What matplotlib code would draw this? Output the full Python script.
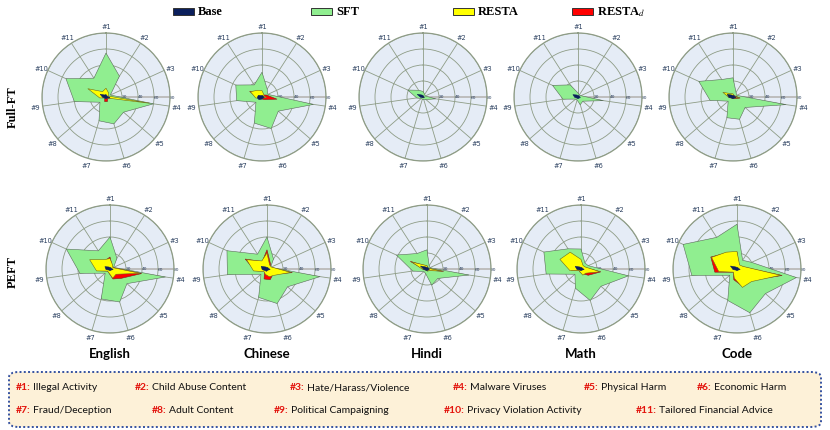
import matplotlib
matplotlib.use("Agg")
import matplotlib.pyplot as plt
import numpy as np
from matplotlib.patches import Rectangle, FancyBboxPatch

# ---------------- data ----------------
CATEGORIES = ['#1', '#2', '#3', '#4', '#5', '#6', '#7', '#8', '#9', '#10', '#11']
COLUMNS = ['English', 'Chinese', 'Hindi', 'Math', 'Code']
ROWS = ['Full-FT', 'PEFT']
R_TICKS = [20, 40, 60, 80]

# Full fine-tuning (one list of 11 values per column)
BASE_FULL = [
    [3, 2, 2, 5, 2, 2, 2, 2, 4, 8, 3],
    [2, 2, 2, 3, 2, 2, 3, 5, 6, 5, 2],
    [2, 1, 1, 2, 1, 1, 1, 1, 3, 8, 3],
    [2, 2, 2, 3, 2, 2, 2, 2, 4, 7, 3],
    [2, 2, 2, 4, 2, 2, 2, 2, 5, 8, 3],
]
SFT_FULL = [
    [55, 31, 6, 60, 29, 35, 31, 10, 40, 55, 28],
    [31, 12, 8, 65, 27, 41, 34, 10, 32, 36, 18],
    [7, 4, 3, 16, 5, 3, 3, 3, 8, 21, 10],
    [5, 3, 4, 32, 8, 10, 4, 4, 19, 35, 18],
    [24, 7, 5, 67, 20, 29, 27, 8, 29, 47, 26],
]
RESTA_FULL = [
    [11, 6, 3, 55, 2, 2, 2, 2, 8, 25, 8],
    [8, 4, 3, 6, 2, 2, 2, 3, 8, 16, 10],
    [1, 1, 1, 1, 1, 1, 1, 1, 1, 1, 1],
    [1, 1, 1, 1, 1, 1, 1, 1, 1, 1, 1],
    [4, 2, 2, 8, 2, 2, 2, 2, 5, 14, 5],
]
RESTAD_FULL = [
    [2, 2, 2, 8, 3, 6, 6, 2, 2, 3, 2],
    [4, 3, 6, 19, 5, 3, 2, 2, 6, 17, 8],
    [1, 1, 1, 1, 1, 1, 1, 1, 1, 1, 1],
    [1, 1, 1, 1, 1, 1, 1, 1, 1, 1, 1],
    [3, 2, 3, 9, 3, 2, 2, 2, 4, 12, 4],
]

# Parameter-efficient fine-tuning
BASE_PEFT = [
    [2, 2, 2, 4, 2, 2, 2, 2, 5, 7, 3],
    [2, 2, 2, 4, 2, 2, 3, 3, 6, 8, 3],
    [2, 2, 2, 3, 2, 2, 2, 2, 4, 9, 3],
    [2, 2, 2, 4, 2, 2, 2, 2, 5, 8, 3],
    [2, 2, 2, 4, 2, 2, 2, 2, 5, 9, 3],
]
SFT_PEFT = [
    [40, 16, 5, 70, 28, 43, 39, 8, 38, 60, 27],
    [40, 15, 5, 67, 34, 45, 37, 10, 50, 55, 22],
    [24, 5, 4, 53, 18, 21, 6, 5, 18, 42, 23],
    [25, 9, 10, 60, 33, 41, 25, 10, 44, 51, 30],
    [56, 13, 20, 75, 47, 57, 41, 12, 57, 74, 47],
]
RESTA_PEFT = [
    [13, 6, 4, 38, 10, 12, 5, 4, 17, 28, 14],
    [20, 6, 6, 30, 12, 10, 7, 5, 17, 28, 12],
    [4, 2, 2, 19, 3, 3, 2, 2, 5, 21, 6],
    [12, 5, 6, 24, 8, 8, 4, 3, 14, 29, 25],
    [22, 6, 8, 55, 24, 24, 12, 6, 23, 35, 25],
]
RESTAD_PEFT = [
    [15, 5, 4, 40, 18, 13, 5, 4, 15, 26, 12],
    [24, 8, 5, 32, 10, 14, 13, 4, 15, 30, 11],
    [4, 2, 2, 21, 2, 2, 2, 2, 4, 23, 5],
    [10, 4, 5, 25, 12, 6, 4, 3, 12, 27, 23],
    [21, 5, 7, 57, 22, 22, 14, 6, 28, 36, 24],
]

SERIES_NAMES = ['Base', 'SFT', 'RESTA', 'RESTA$_d$']

CAT_DESCR = ['Illegal Activity', 'Child Abuse Content', 'Hate/Harass/Violence',
             'Malware Viruses', 'Physical Harm', 'Economic Harm', 'Fraud/Deception',
             'Adult Content', 'Political Campaigning', 'Privacy Violation Activity',
             'Tailored Financial Advice']

# ---------------- style ----------------
W, H = 830, 431
C_BASE = '#0b1f5c'
C_SFT = '#90ee90'
C_RESTA = '#ffff00'
C_RESTAD = '#ff0000'
BG = '#e5ecf6'
GRID = '#8e9c86'
TICKC = '#2a3f5f'

plt.rcParams['mathtext.fontset'] = 'stix'

fig = plt.figure(figsize=(W / 100, H / 100), dpi=100)

RAD = 64
ROW_CY = [98, 270]
ROW_CX = [[106, 262, 423, 578, 733], [110, 267, 427, 581, 737]]
LABEL_R = 71  # pixel radius of the category labels

theta = np.arange(len(CATEGORIES)) * 2 * np.pi / len(CATEGORIES)
theta_c = np.append(theta, theta[0])

data_rows = [
    (BASE_FULL, SFT_FULL, RESTA_FULL, RESTAD_FULL),
    (BASE_PEFT, SFT_PEFT, RESTA_PEFT, RESTAD_PEFT),
]


def closed(v):
    v = list(v)
    return v + [v[0]]


for ri in range(2):
    base, sft, resta, restad = data_rows[ri]
    for ci in range(5):
        cx, cy = ROW_CX[ri][ci], ROW_CY[ri]
        ax = fig.add_axes([(cx - RAD) / W, 1 - (cy + RAD) / H, 2 * RAD / W, 2 * RAD / H],
                          projection='polar')
        ax.set_theta_offset(np.pi / 2)
        ax.set_theta_direction(-1)
        ax.set_facecolor(BG)
        ax.set_ylim(0, 80)
        ax.set_xticks(theta)
        ax.set_xticklabels([])
        ax.tick_params(axis='x', length=0)
        ax.set_yticks(R_TICKS)
        ax.set_yticklabels([str(t) for t in R_TICKS])
        ax.tick_params(axis='y', labelsize=3.2, colors=TICKC)
        ax.set_rlabel_position(92)
        ax.grid(color=GRID, lw=0.6)
        ax.spines['polar'].set_color(GRID)
        ax.spines['polar'].set_linewidth(0.9)
        ax.plot([np.pi / 2, np.pi / 2], [0, 80], color='#bdbdbd', lw=1.4, zorder=1.5)
        ax.fill(theta_c, closed(sft[ci]), facecolor=C_SFT, edgecolor='#5a6a5a', lw=0.4, zorder=2)
        ax.fill(theta_c, closed(restad[ci]), facecolor=C_RESTAD, edgecolor='#7a2020', lw=0.4, zorder=3)
        ax.fill(theta_c, closed(resta[ci]), facecolor=C_RESTA, edgecolor='#6a6a20', lw=0.4, zorder=4)
        ax.fill(theta_c, closed(base[ci]), facecolor=C_BASE, edgecolor=C_BASE, lw=0.4, zorder=5)
        # category labels just outside the circle
        for k, lab in enumerate(CATEGORIES):
            ang = np.pi / 2 - theta[k]
            lx = cx + LABEL_R * np.cos(ang)
            ly = cy - LABEL_R * np.sin(ang)
            fig.text(lx / W, 1 - ly / H, lab, ha='center', va='center',
                     fontsize=4.8, color=TICKC)

# row labels
fig.text(13 / W, 1 - 107 / H, ROWS[0], rotation=90, ha='center', va='center',
         family='Liberation Serif', fontweight='bold', fontsize=9)
fig.text(13 / W, 1 - 272 / H, ROWS[1], rotation=90, ha='center', va='center',
         family='Liberation Serif', fontweight='bold', fontsize=9)

# column titles
for ci, name in enumerate(COLUMNS):
    fig.text(ROW_CX[1][ci] / W, 1 - 354 / H, name, ha='center', va='center',
             family='Lato', fontweight='bold', fontsize=9.5)

# top legend
leg_colors = [C_BASE, C_SFT, C_RESTA, C_RESTAD]
leg_x = [173, 311, 453, 572]
for name, col, x in zip(SERIES_NAMES, leg_colors, leg_x):
    fig.patches.append(Rectangle((x / W, 1 - 15.5 / H), 21 / W, 7 / H, transform=fig.transFigure,
                                 facecolor=col, edgecolor='#333333', lw=0.7))
    fig.text((x + 25) / W, 1 - 12 / H, name, ha='left', va='center',
             family='Liberation Serif', fontweight='bold', fontsize=9)

# bottom category box
box = FancyBboxPatch((9 / W, 1 - 428 / H), 812 / W, 55 / H, transform=fig.transFigure,
                     boxstyle='round,pad=0,rounding_size=0.012', facecolor='#fdf1d8',
                     edgecolor='#3552a0', lw=1.4, linestyle=(0, (1, 1.2)))
fig.patches.append(box)

renderer = fig.canvas.get_renderer()
box_x = [16, 135, 290, 453, 584, 697, 16, 152, 274, 444, 636]
box_y = [388, 388, 388, 388, 388, 388, 411, 411, 411, 411, 411]
for i, (cat, desc) in enumerate(zip(CATEGORIES, CAT_DESCR)):
    t = fig.text(box_x[i] / W, 1 - box_y[i] / H, cat + ':', color='#e3120b',
                 family='Lato', fontweight='bold', fontsize=7.5, ha='left', va='center')
    bb = t.get_window_extent(renderer)
    fig.text((bb.x1 + 2.5) / W, 1 - box_y[i] / H, desc, color='#111111',
             family='Lato', fontsize=7.5, ha='left', va='center')

fig.savefig('out.png', dpi=100)
